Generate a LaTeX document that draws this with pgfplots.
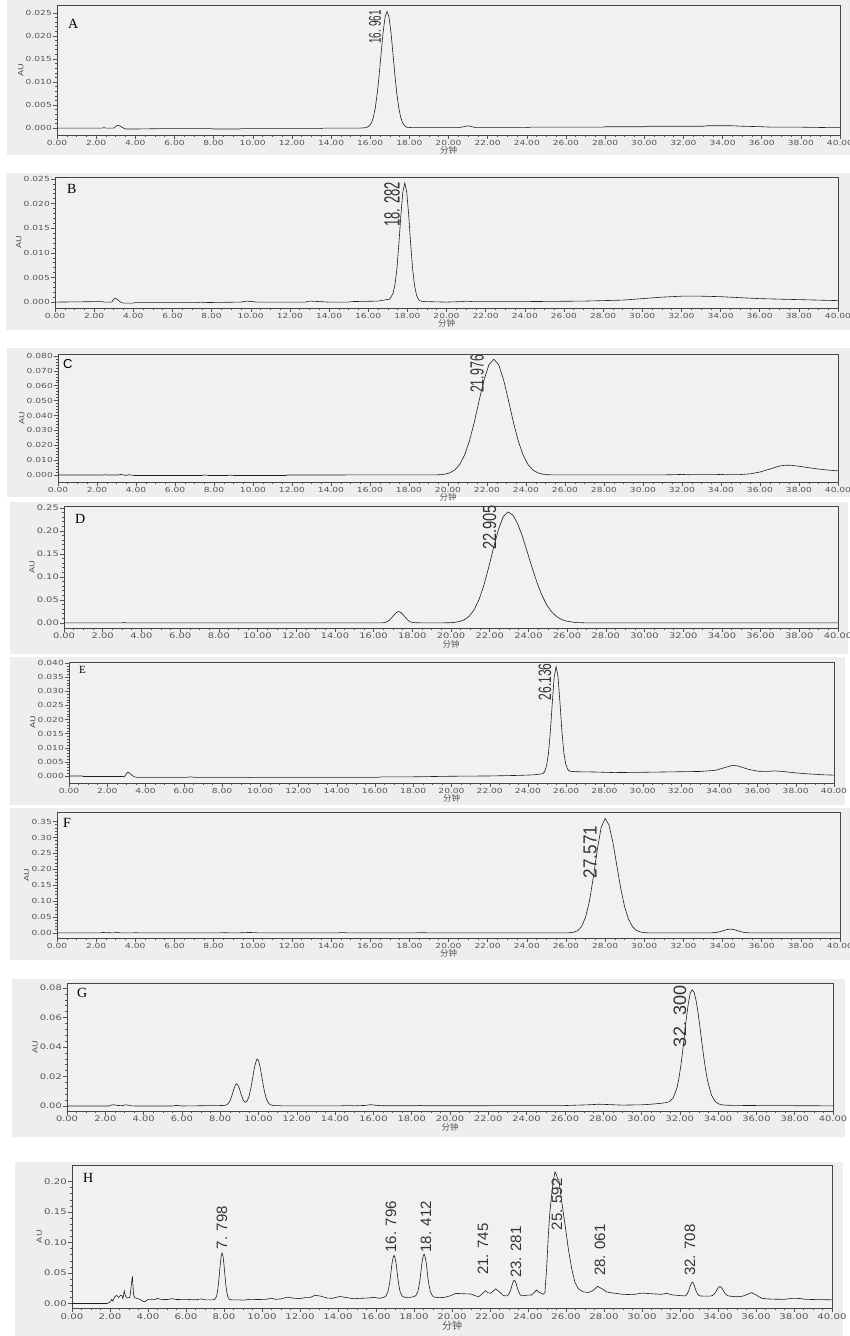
\documentclass[border=0pt]{standalone}
\usepackage{fontspec}
\usepackage{graphicx}
\usepackage{pgfplots}
\pgfplotsset{compat=1.18}
\setmainfont{Liberation Serif}
\newfontfamily\tickfont[FakeStretch=1.3]{DejaVu Sans}
\newfontfamily\pkfont{Liberation Sans}
\newfontfamily\cjk{Noto Sans CJK SC}
\definecolor{panelbg}{RGB}{238,238,238}
\definecolor{plotbg}{RGB}{241,241,241}
\definecolor{curve}{RGB}{30,30,30}
\definecolor{frame}{RGB}{70,70,70}
\definecolor{ticklab}{RGB}{85,85,85}

\tikzset{pk/.style={rotate=90, anchor=east, inner sep=0pt, text=black!80}}
\pgfplotsset{
  chrom/.style={
    scale only axis,
    anchor=north west,
    clip mode=individual,
    xmin=0, xmax=40,
    xtick={0,2,4,6,8,10,12,14,16,18,20,22,24,26,28,30,32,34,36,38,40},
    minor x tick num=3,
    minor y tick num=4,
    tick align=outside,
    tick pos=left,
    axis line style={draw=frame, line width=0.9pt},
    major tick length=4pt,
    minor tick length=2pt,
    every tick/.style={draw=ticklab, line width=0.5pt},
    /pgf/number format/assume math mode=true,
    tick label style={font=\tickfont\fontsize{7}{7}\selectfont, text=ticklab, inner sep=1pt},
    xticklabel style={/pgf/number format/fixed, /pgf/number format/fixed zerofill, /pgf/number format/precision=2},
    scaled y ticks=false,
    axis background/.style={fill=plotbg},
    ylabel={AU},
    ylabel style={font=\tickfont\fontsize{7}{7}\selectfont, text=ticklab, inner sep=1pt},
    xlabel={\cjk 分钟},
    xlabel style={font=\fontsize{8.5}{8.5}\selectfont, text=ticklab, inner sep=0pt},
  },
  yprec/.style={yticklabel style={/pgf/number format/fixed, /pgf/number format/fixed zerofill, /pgf/number format/precision=#1}},
  trace/.style={draw=curve, line width=0.6pt, mark=none},
}

\begin{document}
\begin{tikzpicture}
\path[use as bounding box] (0pt,0pt) rectangle (850pt,-1336pt);
\fill[white] (0pt,0pt) rectangle (850pt,-1336pt);
\fill[panelbg] (7pt,0pt) rectangle (850pt,-155pt);
\fill[panelbg] (6pt,-173pt) rectangle (850pt,-330pt);
\fill[panelbg] (7pt,-348pt) rectangle (850pt,-497pt);
\fill[panelbg] (10pt,-502pt) rectangle (848pt,-654pt);
\fill[panelbg] (10pt,-657pt) rectangle (845pt,-805pt);
\fill[panelbg] (10pt,-808pt) rectangle (850pt,-960pt);
\fill[panelbg] (12pt,-979pt) rectangle (845pt,-1137pt);
\fill[panelbg] (15pt,-1162pt) rectangle (843pt,-1336pt);

% ---------------- A ----------------
\begin{axis}[chrom, at={(57pt,-5pt)}, width=783pt, height=130pt,
  ymin=-0.0015, ymax=0.0267, ytick={0,0.005,0.01,0.015,0.02,0.025}, yprec=3]
\addplot[trace] coordinates {
(0,0) (2.3,0) (2.4,0.0001) (2.5,0) (2.9,0) (3.0,0.0004) (3.1,0.0006) (3.2,0.0005) (3.35,0.0001) (3.5,-0.0002) (4.0,-0.0002) (5.6,-0.0001) (7.9,-0.0001) (8.0,-0.0002) (9.3,-0.0002) (9.5,-0.0001) (13.5,-0.0001) (13.6,0) (15.5,0) (15.8,0.0001) (15.96,0.0005)
(16.06,0.0011) (16.16,0.0023) (16.26,0.0044) (16.36,0.0075) (16.46,0.0116) (16.56,0.0163) (16.66,0.0208) (16.76,0.0241) (16.86,0.0253) (16.96,0.0241) (17.06,0.0208) (17.16,0.0163) (17.26,0.0116) (17.36,0.0075) (17.46,0.0044) (17.56,0.0023) (17.66,0.0011) (17.76,0.0005) (17.86,0.0002) (18.1,0.0001)
(19,0.0001) (20.5,0.0001) (20.8,0.0003) (21.0,0.0005) (21.2,0.0003) (21.4,0.0001) (24,0.0001) (24.2,0.0002) (27.9,0.0002) (28,0.0003) (30,0.0003) (30.2,0.0004) (33,0.0004) (33.2,0.0005) (34.5,0.0005) (35,0.0004) (36,0.0003) (36.5,0.0002) (38,0.0002) (39.5,0.0001) (40,0.0001)
};
\node[pk, font=\pkfont\fontsize{17}{17}\selectfont] at (axis cs:16.25,0.02565) {\scalebox{0.58}[1]{16. 961}};
\end{axis}

% ---------------- B ----------------
\begin{axis}[chrom, at={(55pt,-177pt)}, width=783pt, height=131pt,
  ymin=-0.0012, ymax=0.0254, ytick={0,0.005,0.01,0.015,0.02,0.025}, yprec=3]
\addplot[trace] coordinates {
(0,0) (2.4,0.0001) (2.5,0) (2.9,0) (3.0,0.0006) (3.08,0.0008) (3.2,0.0005) (3.35,0) (3.5,-0.0002) (4.0,-0.0002) (4.1,-0.0001) (7.3,-0.0001) (7.45,0) (7.6,-0.0001) (9.5,0) (9.8,0.0002) (10.1,0.0001) (10.3,0) (12.8,0) (13.0,0.0002) (13.5,0.0001) (14,0) (15,0) (15.1,0.0001) (16.5,0.0002) (16.8,0.0004) (17.1,0.0006)
(17.27,0.0018) (17.37,0.0036) (17.47,0.0069) (17.57,0.0120) (17.67,0.0177) (17.77,0.0224) (17.87,0.0242) (17.97,0.0223) (18.07,0.0176) (18.17,0.0118) (18.27,0.0067) (18.37,0.0033) (18.47,0.0014) (18.57,0.0005) (18.67,0.0002) (18.9,0.0001)
(20,0) (20.8,0.0001) (21.0,0.0002) (21.3,0.0001) (24,0.0001) (27,0.0002) (29,0.0004) (30,0.0007) (31,0.0010) (32,0.0012) (33,0.0012) (34,0.0011) (35,0.0009) (36,0.0007) (37,0.0006) (38,0.0005) (39,0.0004) (40,0.0003)
};
\node[pk, font=\pkfont\fontsize{22}{22}\selectfont] at (axis cs:17.22,0.0244) {\scalebox{0.59}[1]{18. 282}};
\end{axis}

% ---------------- C ----------------
\begin{axis}[chrom, at={(58pt,-354pt)}, width=780pt, height=128pt,
  ymin=-0.0047, ymax=0.0813, ytick={0,0.01,0.02,0.03,0.04,0.05,0.06,0.07,0.08}, yprec=3]
\addplot[trace] coordinates {
(0,0) (2.3,0) (2.4,0.0002) (2.5,0) (3.1,0) (3.2,0.0004) (3.35,0.0001) (3.5,-0.0003) (3.6,0.0002) (3.75,0) (3.9,-0.0003) (7.4,-0.0003) (7.5,0.0001) (7.7,-0.0003) (8.7,-0.0003) (8.8,-0.0001) (9,-0.0003) (11.7,-0.0003) (11.75,0) (19.35,0.0001)
(19.6,0.0002) (19.85,0.0006) (20.1,0.0015) (20.35,0.0034) (20.6,0.0071) (20.85,0.0134) (21.1,0.0230) (21.35,0.0356) (21.6,0.0502) (21.85,0.0640) (22.1,0.0741) (22.35,0.0778) (22.6,0.0741) (22.85,0.0640) (23.1,0.0502) (23.35,0.0356) (23.6,0.0230) (23.85,0.0134) (24.1,0.0071) (24.35,0.0034) (24.6,0.0015) (24.85,0.0006) (25.1,0.0002) (25.35,0.0001)
(28,0.0001) (31,0.0001) (31.5,0.0002) (32,0.0004) (32.3,0.0002) (33.8,0.0003) (34,0.0004) (34.3,0.0002) (35,0.0003) (35.5,0.0008) (36,0.0020) (36.5,0.0040) (37,0.0060) (37.3,0.0066) (37.6,0.0065) (38,0.0059) (38.5,0.0049) (39,0.0040) (39.5,0.0033) (40,0.0028)
};
\node[pk, font=\pkfont\fontsize{19}{19}\selectfont] at (axis cs:21.49,0.0807) {\scalebox{0.65}[1]{21.976}};
\end{axis}

% ---------------- D ----------------
\begin{axis}[chrom, at={(64pt,-506pt)}, width=774pt, height=122pt,
  ymin=-0.011, ymax=0.254, ytick={0,0.05,0.1,0.15,0.2,0.25}, yprec=2,
  tick label style={font=\tickfont\fontsize{7.6}{8}\selectfont}]
\addplot[trace] coordinates {
(0,0) (3.0,0) (3.1,0.001) (3.25,0) (16.3,0) (16.45,0.0003) (16.55,0.0007) (16.65,0.0018) (16.75,0.0040) (16.85,0.0075) (16.95,0.0120) (17.05,0.0170) (17.15,0.0215) (17.25,0.0245) (17.3,0.0248) (17.4,0.0230) (17.5,0.0190) (17.6,0.0140) (17.7,0.0090) (17.8,0.0050) (17.9,0.0025) (18.0,0.0012) (18.2,0.0004) (18.6,0.0002) (19.5,0.0002)
(19.95,0.0005) (20.2,0.0013) (20.45,0.0032) (20.7,0.0073) (20.95,0.015) (21.2,0.029) (21.45,0.051) (21.7,0.082) (21.95,0.121) (22.2,0.163) (22.45,0.203) (22.7,0.231) (22.95,0.241) (23.2,0.234) (23.45,0.215) (23.7,0.187) (23.95,0.153) (24.2,0.119) (24.45,0.087) (24.7,0.060) (24.95,0.039) (25.2,0.024) (25.45,0.014) (25.7,0.0078) (25.95,0.0041) (26.45,0.0009) (26.95,0.0002) (28,0) (40,0)
};
\node[pk, font=\pkfont\fontsize{19}{19}\selectfont] at (axis cs:22.0,0.2565) {\scalebox{0.77}[1]{22.905}};
\end{axis}

% ---------------- E ----------------
\begin{axis}[chrom, at={(69pt,-662pt)}, width=765pt, height=121pt,
  ymin=-0.0025, ymax=0.0404, ytick={0,0.005,0.01,0.015,0.02,0.025,0.03,0.035,0.04}, yprec=3]
\addplot[trace] coordinates {
(0,0) (0.7,0) (0.75,-0.0002) (2.8,-0.0002) (2.9,-0.0003) (3.0,0.0008) (3.08,0.0013) (3.15,0.0011) (3.3,0.0002) (3.45,-0.0004) (3.6,-0.0005) (6.2,-0.0005) (6.3,-0.0003) (6.6,-0.0005) (9.4,-0.0005) (9.5,-0.0007) (9.6,-0.0005) (16.2,-0.0005) (16.3,-0.0003) (18,-0.0003) (20,-0.0001) (22,0.0000) (23.5,0.0002) (24.3,0.0004)
(24.77,0.0008) (24.87,0.0015) (24.97,0.0036) (25.07,0.0080) (25.17,0.0158) (25.27,0.0260) (25.37,0.0351) (25.47,0.0388) (25.57,0.0352) (25.67,0.0262) (25.77,0.0161) (25.87,0.0085) (25.97,0.0043) (26.07,0.0024) (26.17,0.0017)
(26.5,0.0015) (27.5,0.0014) (28.5,0.0012) (30,0.0013) (31,0.0014) (32,0.0015) (33,0.0016) (33.8,0.0020) (34.3,0.0030) (34.7,0.0038) (35.0,0.0035) (35.5,0.0024) (36,0.0017) (36.5,0.0016) (36.9,0.0018) (37.3,0.0016) (38,0.0011) (38.5,0.0008) (39,0.0006) (39.5,0.0004) (40,0.0003)
};
\node[pk, font=\pkfont\fontsize{18}{18}\selectfont] at (axis cs:24.89,0.0400) {\scalebox{0.67}[1]{26.136}};
\end{axis}

% ---------------- F ----------------
\begin{axis}[chrom, at={(57pt,-812pt)}, width=783pt, height=126pt,
  ymin=-0.016, ymax=0.38, ytick={0,0.05,0.1,0.15,0.2,0.25,0.3,0.35}, yprec=2]
\addplot[trace] coordinates {
(0,0) (2.2,0) (2.35,0.0015) (2.5,0.0008) (2.7,0.0005) (2.9,0) (3.0,0.0025) (3.1,0.0012) (3.3,0) (3.9,0) (4.0,0.0008) (4.2,0) (8.3,0) (8.45,0.0008) (8.7,0.0005) (8.9,0) (9.5,0.0005) (9.8,0.0015) (10.1,0.0008) (10.3,0) (14.3,0) (14.6,0.0012) (14.9,0) (18.3,0) (18.5,0.0008) (18.8,0.0005) (19,0) (26,0) (26.2,0.0005)
(26.4,0.0022) (26.6,0.0071) (26.8,0.020) (27.0,0.049) (27.2,0.100) (27.4,0.175) (27.6,0.261) (27.8,0.332) (28.0,0.360) (28.2,0.339) (28.4,0.284) (28.6,0.211) (28.8,0.139) (29.0,0.0815) (29.2,0.0424) (29.4,0.0196) (29.6,0.0080) (29.8,0.0029) (30.0,0.0009) (30.2,0.0003)
(31,0) (33.2,0) (33.4,0.0002) (33.6,0.0009) (33.8,0.0028) (34.0,0.0063) (34.2,0.0102) (34.4,0.012) (34.6,0.0102) (34.8,0.0063) (35.0,0.0028) (35.2,0.0009) (35.4,0.0002) (36,0) (40,0)
};
\node[pk, font=\pkfont\fontsize{19}{19}\selectfont] at (axis cs:27.23,0.3375) {\scalebox{0.9}[1]{27.571}};
\end{axis}

% ---------------- G ----------------
\begin{axis}[chrom, at={(67pt,-983pt)}, width=766pt, height=128pt,
  ymin=-0.0034, ymax=0.0834, ytick={0,0.02,0.04,0.06,0.08}, yprec=2,
  tick label style={font=\tickfont\fontsize{7.6}{8}\selectfont}]
\addplot[trace] coordinates {
(0,0) (2.2,0) (2.3,0.0006) (2.45,0.0009) (2.6,0.0004) (2.9,0.0002) (3.05,0.0008) (3.2,0.0006) (3.35,0.0001) (3.6,0) (5.5,0) (5.7,0.0004) (5.9,0.0002) (6.0,0) (7.8,0.0003)
(8.0,0.0003) (8.2,0.0004) (8.3,0.0006) (8.4,0.0014) (8.5,0.0032) (8.6,0.0066) (8.7,0.0110) (8.8,0.0144) (8.86,0.0151) (8.9,0.0148) (9.0,0.0119) (9.1,0.0076) (9.2,0.0041) (9.3,0.0025) (9.4,0.0032) (9.5,0.0063) (9.6,0.0119) (9.7,0.0194) (9.8,0.0269) (9.9,0.0314) (9.94,0.0318) (10.0,0.0308) (10.1,0.0255) (10.2,0.0178) (10.3,0.0105) (10.4,0.0053) (10.5,0.0024) (10.6,0.0010) (10.7,0.0005) (10.8,0.0003)
(11,0.0003) (11.2,0.0001) (14.3,0.0001) (14.5,0.0003) (14.8,0.0003) (15.0,0.0001) (15.6,0.0004) (15.85,0.0009) (16.1,0.0005) (16.4,0.0002) (18.3,0.0002) (18.4,0.0004) (18.6,0.0002) (22,0.0002) (26,0.0003) (27.2,0.0008) (27.8,0.0012) (28.4,0.0009) (29,0.0006) (30,0.0008) (30.5,0.0012) (31.0,0.0018) (31.25,0.0022)
(31.45,0.0029) (31.65,0.0053) (31.85,0.0122) (31.95,0.0185) (32.05,0.0269) (32.15,0.0372) (32.25,0.0488) (32.35,0.0604) (32.45,0.0700) (32.55,0.0768) (32.65,0.0788) (32.75,0.0769) (32.85,0.0715) (32.95,0.0635) (33.05,0.0537) (33.15,0.0432) (33.25,0.0333) (33.35,0.0244) (33.45,0.0172) (33.65,0.0075) (33.85,0.0030) (34.05,0.0013) (34.25,0.0007)
(34.5,0.0005) (35,0.0004) (36,0.0003) (38,0.0002) (40,0.0001)
};
\node[pk, font=\pkfont\fontsize{18}{18}\selectfont] at (axis cs:32.0,0.082) {32. 300};
\end{axis}

% ---------------- H ----------------
\begin{axis}[chrom, at={(72pt,-1165pt)}, width=760pt, height=141pt,
  ymin=-0.008, ymax=0.227, ytick={0,0.05,0.1,0.15,0.2}, yprec=2,
  tick label style={font=\tickfont\fontsize{7.8}{8}\selectfont},
  xlabel style={font=\fontsize{10}{10}\selectfont}]
\addplot[trace] coordinates {
(0,0) (1.85,0) (2.0,0.002) (2.09,0.0067) (2.15,0.004) (2.25,0.011) (2.35,0.0133) (2.45,0.010) (2.55,0.013) (2.62,0.0133) (2.68,0.008) (2.75,0.0206) (2.82,0.012) (2.9,0.009) (3.05,0.010) (3.12,0.030) (3.18,0.0444) (3.24,0.015) (3.3,0.0094) (3.45,0.008) (3.58,0.0067) (3.7,0.004) (3.84,0.0028) (4.0,0.0067) (4.4,0.0067) (4.5,0.0085) (4.65,0.0067) (5.0,0.0065) (5.3,0.0078) (5.5,0.0065) (6.0,0.0068) (6.5,0.006) (6.8,0.0075) (7.0,0.006) (7.4,0.006)
(7.5,0.0067) (7.55,0.0081) (7.6,0.0114) (7.65,0.0181) (7.7,0.0296) (7.75,0.0456) (7.8,0.0633) (7.85,0.0775) (7.9,0.083) (7.95,0.0775) (8.0,0.0633) (8.05,0.0456) (8.1,0.0296) (8.15,0.0181) (8.2,0.0114) (8.25,0.0081) (8.3,0.0067) (8.4,0.006)
(8.8,0.006) (9.0,0.0055) (9.4,0.0068) (9.8,0.0065) (10.2,0.0068) (10.5,0.0085) (10.7,0.0068) (11.0,0.0075) (11.35,0.0105) (11.7,0.0085) (12.0,0.008) (12.25,0.0095) (12.5,0.0095) (12.8,0.0135) (13.1,0.012) (13.4,0.009) (13.7,0.0085) (14.1,0.0115) (14.4,0.010) (14.8,0.0078) (15.2,0.0085) (15.5,0.0088) (15.9,0.010) (16.2,0.0085) (16.42,0.0103)
(16.52,0.012) (16.63,0.0193) (16.68,0.0272) (16.74,0.0384) (16.79,0.0519) (16.84,0.0653) (16.9,0.0753) (16.95,0.079) (17.0,0.0753) (17.06,0.0653) (17.11,0.0519) (17.16,0.0384) (17.22,0.0272) (17.27,0.0193) (17.38,0.012) (17.48,0.0103) (17.8,0.010)
(18.0,0.0113) (18.1,0.013) (18.21,0.0205) (18.26,0.0284) (18.32,0.0398) (18.37,0.0535) (18.42,0.0671) (18.48,0.0772) (18.53,0.081) (18.58,0.0772) (18.64,0.0671) (18.69,0.0535) (18.74,0.0398) (18.8,0.0284) (18.85,0.0205) (18.96,0.013) (19.06,0.0105)
(19.3,0.0095) (19.6,0.01) (19.9,0.0125) (20.2,0.0165) (20.6,0.016) (21.0,0.0155) (21.2,0.013) (21.4,0.011) (21.6,0.016) (21.75,0.021) (21.9,0.0175) (22.05,0.017) (22.3,0.024) (22.5,0.019) (22.7,0.013) (22.88,0.0124)
(22.98,0.0146) (23.08,0.0214) (23.18,0.0322) (23.23,0.0364) (23.28,0.038) (23.33,0.0364) (23.38,0.0322) (23.48,0.0214) (23.58,0.0146) (23.68,0.0124) (23.9,0.0135) (24.2,0.014) (24.45,0.022) (24.6,0.018) (24.8,0.015)
(24.89,0.018) (24.98,0.057) (25.07,0.112) (25.14,0.145) (25.21,0.168) (25.33,0.201) (25.42,0.2156) (25.49,0.212) (25.56,0.204) (25.62,0.203) (25.70,0.185) (25.77,0.168) (25.86,0.148) (25.95,0.129) (26.12,0.090) (26.3,0.057) (26.47,0.035) (26.65,0.024) (26.91,0.019) (27.2,0.018) (27.45,0.022) (27.67,0.028) (27.9,0.024) (28.13,0.019) (28.5,0.017) (29.0,0.015) (29.5,0.0145) (30.0,0.017) (30.5,0.016) (31.0,0.015) (31.3,0.0165) (31.6,0.014) (32.0,0.013) (32.25,0.0124)
(32.35,0.0143) (32.45,0.0203) (32.55,0.0298) (32.6,0.0336) (32.65,0.035) (32.7,0.0336) (32.75,0.0298) (32.85,0.0203) (32.95,0.0143) (33.05,0.0124) (33.3,0.012) (33.6,0.0121)
(33.7,0.013) (33.8,0.0154) (33.9,0.020) (34.0,0.0255) (34.1,0.028) (34.2,0.0255) (34.3,0.020) (34.4,0.0154) (34.5,0.013) (34.6,0.0121) (34.8,0.0115) (35.0,0.011) (35.3,0.012) (35.55,0.015) (35.77,0.0178) (36.0,0.014) (36.3,0.0085) (36.6,0.0075) (37.0,0.007) (37.5,0.0068) (37.9,0.0085) (38.3,0.0082) (38.6,0.0068) (39.0,0.0065) (40,0.006)
};
\node[pk, font=\pkfont\fontsize{15}{15}\selectfont] at (axis cs:7.89,0.160) {7. 798};
\node[pk, font=\pkfont\fontsize{15}{15}\selectfont] at (axis cs:16.79,0.168) {16. 796};
\node[pk, font=\pkfont\fontsize{15}{15}\selectfont] at (axis cs:18.63,0.168) {18. 412};
\node[pk, font=\pkfont\fontsize{15}{15}\selectfont] at (axis cs:21.63,0.1317) {21. 745};
\node[pk, font=\pkfont\fontsize{15}{15}\selectfont] at (axis cs:23.37,0.1267) {23. 281};
\node[pk, font=\pkfont\fontsize{15}{15}\selectfont] at (axis cs:25.53,0.205) {25. 592};
\node[pk, font=\pkfont\fontsize{15}{15}\selectfont] at (axis cs:27.79,0.130) {28. 061};
\node[pk, font=\pkfont\fontsize{15}{15}\selectfont] at (axis cs:32.53,0.130) {32. 708};
\end{axis}

% panel letters
\node[anchor=base west, inner sep=0pt, font=\fontsize{14}{14}\selectfont] at (68pt,-28pt) {A};
\node[anchor=base west, inner sep=0pt, font=\fontsize{14}{14}\selectfont] at (67pt,-193pt) {B};
\node[anchor=base west, inner sep=0pt, font=\pkfont\fontsize{13}{13}\selectfont] at (63pt,-368pt) {C};
\node[anchor=base west, inner sep=0pt, font=\fontsize{14}{14}\selectfont] at (75pt,-523pt) {D};
\node[anchor=base west, inner sep=0pt, font=\fontsize{11}{11}\selectfont] at (79pt,-673pt) {E};
\node[anchor=base west, inner sep=0pt, font=\fontsize{14}{14}\selectfont] at (63pt,-827pt) {F};
\node[anchor=base west, inner sep=0pt, font=\fontsize{14}{14}\selectfont] at (77pt,-997pt) {G};
\node[anchor=base west, inner sep=0pt, font=\fontsize{14}{14}\selectfont] at (83pt,-1182pt) {H};
\end{tikzpicture}
\end{document}
